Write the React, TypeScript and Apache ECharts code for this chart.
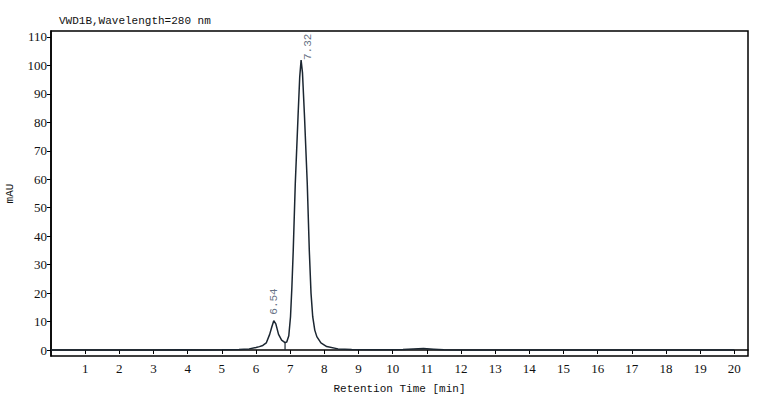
import React, { useEffect, useRef } from 'react';
import * as echarts from 'echarts';

// retention time (min) and absorbance (mAU)
const times = [0, 1, 2, 3, 3.8, 4.5, 5, 5.5, 5.8, 6.0, 6.1, 6.2, 6.3, 6.4, 6.46, 6.52, 6.58, 6.66, 6.75, 6.85, 6.9, 6.96, 7.01, 7.05, 7.09, 7.15, 7.23, 7.28, 7.32, 7.36, 7.42, 7.5, 7.56, 7.61, 7.66, 7.72, 7.78, 7.9, 8.07, 8.4, 8.8, 9.5, 10, 10.3, 10.6, 10.9, 11.2, 11.5, 12, 14, 16, 18, 20];
const signal = [0, 0, 0, 0.05, 0.1, 0.05, 0.1, 0.2, 0.4, 0.9, 1.2, 1.6, 2.5, 5.5, 8, 10.3, 9.2, 5.5, 3.5, 2.6, 2.8, 5, 11.7, 22, 35, 58.6, 82, 96, 101.9, 97.5, 82, 58.6, 35, 20, 11.7, 7, 4.7, 2.5, 1.2, 0.4, 0.15, 0.1, 0.1, 0.2, 0.4, 0.5, 0.3, 0.1, 0.05, 0, 0, 0, 0];

// integrated peaks
const peakTimes = [6.54, 7.32];
const peakHeights = [10.3, 101.9];
const peakLabels = ['6.54', '7.32'];

// drop line between the peaks
const dropTimes = [6.85, 6.85];
const dropValues = [0, 2.6];

const xTicks = [1, 2, 3, 4, 5, 6, 7, 8, 9, 10, 11, 12, 13, 14, 15, 16, 17, 18, 19, 20];
const yTicks = [0, 10, 20, 30, 40, 50, 60, 70, 80, 90, 100, 110];

const ink = '#1b2631';
const mono = '"Liberation Mono", "DejaVu Sans Mono", monospace';
const serif = '"Liberation Serif", "DejaVu Serif", serif';

const App: React.FC = () => {
    const chartRef: any = useRef(null);

    useEffect(() => {
        const chart = echarts.init(chartRef.current, null, { renderer: 'svg' });
        const option = {
            animation: false,
            backgroundColor: '#fff',
            title: {
                text: 'VWD1B,Wavelength=280 nm',
                left: 54,
                top: 10,
                textStyle: { fontFamily: mono, fontSize: 11, fontWeight: 'normal', color: '#111' }
            },
            grid: {
                left: 51, right: 29, top: 31, bottom: 44,
                outerBoundsMode: 'none',
                show: true, borderColor: '#000', borderWidth: 1.5
            },
            xAxis: {
                type: 'value',
                min: 0,
                max: 20.4,
                name: 'Retention Time [min]',
                nameLocation: 'middle',
                nameGap: 27,
                nameTextStyle: { fontFamily: mono, fontSize: 11, color: '#111' },
                axisLine: { lineStyle: { color: '#000', width: 1.5 } },
                axisTick: { show: true, length: 4, customValues: xTicks, lineStyle: { color: '#000' } },
                axisLabel: { customValues: xTicks, fontFamily: serif, fontSize: 13, color: '#111', margin: 6 },
                splitLine: { show: false }
            },
            yAxis: {
                type: 'value',
                min: -2.1,
                max: 112.1,
                name: 'mAU',
                nameLocation: 'middle',
                nameRotate: 90,
                nameGap: 36,
                nameTextStyle: { fontFamily: mono, fontSize: 11, color: '#111' },
                axisLine: { show: true, lineStyle: { color: '#000', width: 1.5 } },
                axisTick: { show: true, length: 4, customValues: yTicks, lineStyle: { color: '#000' } },
                axisLabel: { customValues: yTicks, fontFamily: serif, fontSize: 13, color: '#111', margin: 4 },
                splitLine: { show: false }
            },
            series: [
                {
                    type: 'line',
                    data: times.map((t, i) => [t, signal[i]]),
                    showSymbol: false,
                    symbol: 'none',
                    lineStyle: { color: ink, width: 1.5 },
                    z: 3
                },
                {
                    type: 'line',
                    data: dropTimes.map((t, i) => [t, dropValues[i]]),
                    symbol: 'none',
                    lineStyle: { color: ink, width: 1.2 },
                    z: 3
                },
                {
                    type: 'scatter',
                    data: peakTimes.map((t, i) => ({
                        value: [t, peakHeights[i]],
                        label: { formatter: peakLabels[i], offset: i === 0 ? [6, 0] : [0, 7] }
                    })),
                    symbolSize: 0,
                    label: {
                        show: true,
                        position: 'top',
                        distance: 0,
                        rotate: 90,
                        align: 'left',
                        verticalAlign: 'middle',
                        fontFamily: mono,
                        fontSize: 11,
                        color: '#3b4a63'
                    },
                    z: 4
                }
            ]
        };
        chart.setOption(option);
        return () => {
            chart.dispose();
        };
    }, []);

    return <div ref={chartRef} style={{ position: 'fixed', left: 0, top: 0, width: 777, height: 400 }}></div>;
};

export default App;
